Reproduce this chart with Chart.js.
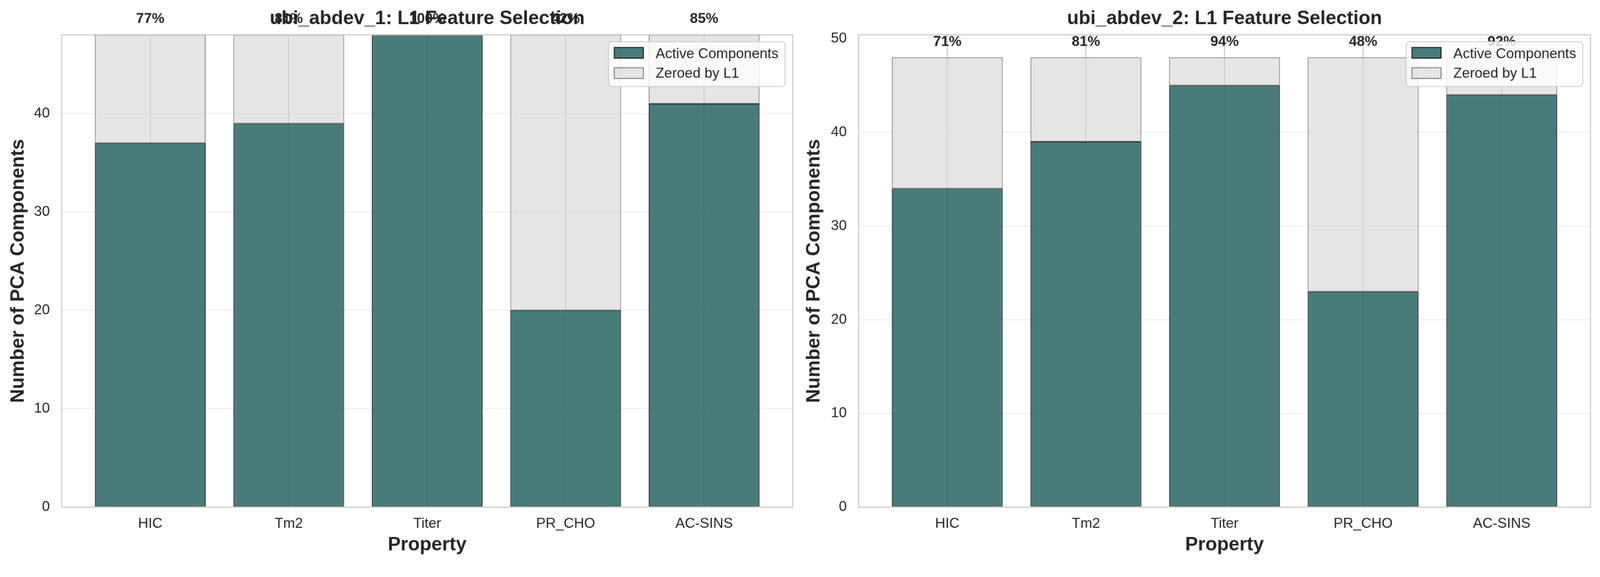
<!DOCTYPE html>
<html><head><meta charset="utf-8">
<script src="https://cdn.jsdelivr.net/npm/chart.js@4.4.1/dist/chart.umd.min.js"></script>
<style>
html,body{margin:0;padding:0;background:#fff;overflow:hidden;}
canvas{position:absolute;top:0;display:block;}
</style></head><body>
<canvas id="c1" width="2089" height="1478"></canvas>
<canvas id="c2" width="2089" height="1478"></canvas>
<script>
// ---- data ----
const categories = ['HIC', 'Tm2', 'Titer', 'PR_CHO', 'AC-SINS'];
const seriesNames = ['Active Components', 'Zeroed by L1'];

const active1 = [37, 39, 48, 20, 41];
const zeroed1 = [11, 9, 0, 28, 7];
const pctLabels1 = ['77%', '81%', '100%', '42%', '85%'];

const active2 = [34, 39, 45, 23, 44];
const zeroed2 = [14, 9, 3, 25, 4];
const pctLabels2 = ['71%', '81%', '94%', '48%', '92%'];

const yTicks1 = [0, 10, 20, 30, 40];
const yTicks2 = [0, 10, 20, 30, 40, 50];
const yMax1 = 48;
const yMax2 = 50.4;

const titles = ['ubi_abdev_1: L1 Feature Selection', 'ubi_abdev_2: L1 Feature Selection'];
const xTitle = 'Property';
const yTitle = 'Number of PCA Components';

// ---- map the 4178x1478 device-pixel design onto the actual viewport ----
const W = 4178, H = 1478;
const s = (window.innerWidth > 0) ? W / window.innerWidth : 1;
['c1', 'c2'].forEach((id, k) => {
  const c = document.getElementById(id);
  c.style.width = (2089 / s) + 'px';
  c.style.height = (H / s) + 'px';
  c.style.left = (k * 2089 / s) + 'px';
});

// ---- styling ----
const FONT = '"Liberation Sans", Arial, Helvetica, sans-serif';
const TEXT = '#262626';
const ACTIVE_FILL = 'rgba(42,100,100,0.85)';
const ACTIVE_EDGE = 'rgba(0,0,0,0.85)';
const ZERO_FILL = 'rgba(211,211,211,0.6)';
const ZERO_EDGE = '#808080';

Chart.defaults.font.family = FONT;
Chart.defaults.color = TEXT;

const spinePlugin = {
  id: 'spines',
  afterDatasetsDraw(chart) {
    const {ctx, chartArea: a} = chart;
    ctx.save();
    ctx.strokeStyle = '#cccccc';
    ctx.lineWidth = 3;
    ctx.strokeRect(a.left, a.top, a.right - a.left, a.bottom - a.top);
    ctx.restore();
  }
};

const pctPlugin = {
  id: 'pct',
  afterDatasetsDraw(chart, args, opts) {
    const {ctx, scales: {x, y}} = chart;
    const ds = chart.data.datasets;
    ctx.save();
    ctx.font = 'bold 37px ' + FONT;
    ctx.fillStyle = TEXT;
    ctx.textAlign = 'center';
    ctx.textBaseline = 'alphabetic';
    opts.labels.forEach((t, i) => {
      const total = ds[0].data[i].y + ds[1].data[i].y;
      ctx.fillText(t, x.getPixelForValue(i), y.getPixelForValue(total + 1) - 5);
    });
    ctx.restore();
  }
};

function roundRectPath(ctx, x, y, w, h, r) {
  ctx.beginPath();
  ctx.moveTo(x + r, y);
  ctx.lineTo(x + w - r, y);
  ctx.arcTo(x + w, y, x + w, y + r, r);
  ctx.lineTo(x + w, y + h - r);
  ctx.arcTo(x + w, y + h, x + w - r, y + h, r);
  ctx.lineTo(x + r, y + h);
  ctx.arcTo(x, y + h, x, y + h - r, r);
  ctx.lineTo(x, y + r);
  ctx.arcTo(x, y, x + r, y, r);
  ctx.closePath();
}

const boxLegendPlugin = {
  id: 'boxLegend',
  afterDraw(chart) {
    const {ctx, chartArea: a} = chart;
    const ds = chart.data.datasets;
    const w = 461, h = 117;
    const x0 = a.right - 20 - w, y0 = a.top + 18;
    ctx.save();
    roundRectPath(ctx, x0, y0, w, h, 9);
    ctx.fillStyle = 'rgba(255,255,255,0.8)';
    ctx.fill();
    ctx.lineWidth = 3;
    ctx.strokeStyle = 'rgba(204,204,204,0.8)';
    ctx.stroke();
    const rows = [15, 68];
    const bases = [43, 94];
    ds.forEach((d, i) => {
      const px = x0 + 15, py = y0 + rows[i];
      ctx.fillStyle = d.backgroundColor;
      ctx.fillRect(px, py, 76, 28);
      ctx.lineWidth = 2.5;
      ctx.strokeStyle = d.borderColor;
      ctx.strokeRect(px, py, 76, 28);
      ctx.font = '37px ' + FONT;
      ctx.fillStyle = TEXT;
      ctx.textAlign = 'left';
      ctx.textBaseline = 'alphabetic';
      ctx.fillText(d.label, x0 + 123, y0 + bases[i]);
    });
    ctx.restore();
  }
};

function makeChart(id, cfg) {
  const toPts = arr => arr.map((v, i) => ({x: i, y: v}));
  return new Chart(document.getElementById(id), {
    type: 'bar',
    data: {
      datasets: [
        {label: seriesNames[0], data: toPts(cfg.active), stack: 's',
         backgroundColor: ACTIVE_FILL, borderColor: ACTIVE_EDGE, borderWidth: 2, borderSkipped: false},
        {label: seriesNames[1], data: toPts(cfg.zeroed), stack: 's',
         backgroundColor: ZERO_FILL, borderColor: ZERO_EDGE, borderWidth: 2, borderSkipped: false}
      ]
    },
    options: {
      responsive: false,
      animation: false,
      devicePixelRatio: 1,
      categoryPercentage: 1,
      barPercentage: 0.8,
      layout: {padding: {left: 0, right: cfg.padRight, top: 0, bottom: 0}},
      plugins: {
        legend: {display: false},
        tooltip: {enabled: false},
        title: {display: true, text: cfg.title, fullSize: false, color: TEXT,
                font: {size: 50, weight: 'bold'}, padding: {top: 19, bottom: 12}},
        pct: {labels: cfg.pct}
      },
      scales: {
        x: {
          type: 'linear', min: -0.64, max: 4.64, offset: false, stacked: true,
          afterBuildTicks: sc => { sc.ticks = categories.map((_, i) => ({value: i})); },
          afterFit: sc => { sc.height = 153; },
          grid: {color: '#cccccc', lineWidth: 3, drawTicks: false, offset: false},
          border: {display: false},
          ticks: {callback: v => categories[v], autoSkip: false, maxRotation: 0,
                  padding: 22, color: TEXT, font: {size: 37}},
          title: {display: true, text: xTitle, color: TEXT, font: {size: 50, weight: 'bold'},
                  padding: {top: 0, bottom: 24}}
        },
        y: {
          min: 0, max: cfg.yMax, stacked: true,
          afterBuildTicks: sc => { sc.ticks = cfg.yTicks.map(v => ({value: v})); },
          afterFit: sc => { sc.width = cfg.yWidth; },
          grid: {color: 'rgba(204,204,204,0.3)', lineWidth: 3, drawTicks: false},
          border: {display: false},
          ticks: {padding: 31, color: TEXT, font: {size: 37}},
          title: {display: true, text: yTitle, color: TEXT, font: {size: 50, weight: 'bold'},
                  padding: {top: cfg.yTitlePad, bottom: 0}}
        }
      }
    },
    plugins: [spinePlugin, pctPlugin, boxLegendPlugin]
  });
}

makeChart('c1', {active: active1, zeroed: zeroed1, pct: pctLabels1, yTicks: yTicks1, yMax: yMax1,
                 title: titles[0], padRight: 19, yWidth: 161, yTitlePad: 18});
makeChart('c2', {active: active2, zeroed: zeroed2, pct: pctLabels2, yTicks: yTicks2, yMax: yMax2,
                 title: titles[1], padRight: 25, yWidth: 153, yTitlePad: 7});
</script>
</body></html>
